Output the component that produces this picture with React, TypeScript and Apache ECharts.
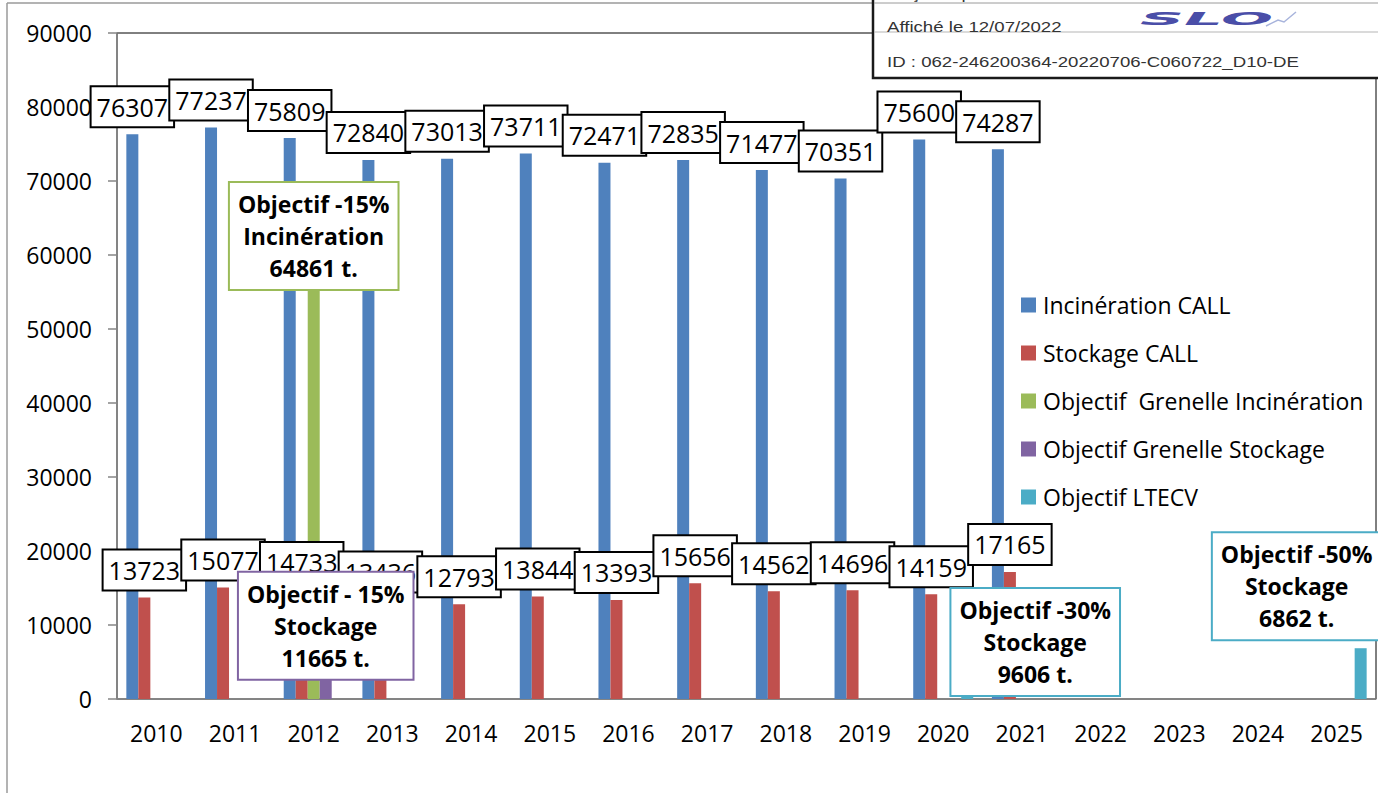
import React, { useEffect, useRef } from "react";
import * as echarts from "echarts";

const years = ["2010", "2011", "2012", "2013", "2014", "2015", "2016", "2017", "2018", "2019", "2020", "2021", "2022", "2023", "2024", "2025"];
const incinerationCall = [76307, 77237, 75809, 72840, 73013, 73711, 72471, 72835, 71477, 70351, 75600, 74287, null, null, null, null];
const stockageCall = [13723, 15077, 14733, 13436, 12793, 13844, 13393, 15656, 14562, 14696, 14159, 17165, null, null, null, null];
const grenelleIncineration = [null, null, 64861, null, null, null, null, null, null, null, null, null, null, null, null, null];
const grenelleStockage = [null, null, 11665, null, null, null, null, null, null, null, null, null, null, null, null, null];
const objectifLtecv = [null, null, null, null, null, null, null, null, null, null, 9606, null, null, null, null, 6862];
const ltecvPercent: Record<number, string> = { 10: "-30%", 15: "-50%" };
const seriesNames = ["Incinération CALL", "Stockage CALL", "Objectif  Grenelle Incinération", "Objectif Grenelle Stockage", "Objectif LTECV"];
const colors = ["#4F81BD", "#C0504D", "#9BBB59", "#8064A2", "#4BACC6"];

const FONT = "Open Sans";

export default function App() {
  const ref = useRef<HTMLDivElement>(null);
  useEffect(() => {
    if (!ref.current) return;
    const chart = echarts.init(ref.current, null, { renderer: "svg" });

    const valueLabel = {
      show: true,
      position: "top",
      distance: 8,
      fontFamily: FONT,
      fontSize: 25,
      lineHeight: 29,
      color: "#000",
      backgroundColor: "#fff",
      borderColor: "#000",
      borderWidth: 2,
      padding: [5, 5],
    };
    const noteLabel = (color: string) => ({
      show: true,
      position: "top",
      distance: 0,
      fontFamily: FONT,
      fontSize: 23,
      fontWeight: "bold",
      lineHeight: 32,
      color: "#000",
      backgroundColor: "#fff",
      borderColor: color,
      borderWidth: 2,
      padding: [5, 8],
      align: "center",
    });

    const ltecvOffsets: Record<number, number[]> = { 10: [68, 67], 15: [-64, -9] };
    const ltecvData = objectifLtecv.map((v, i) =>
      v == null
        ? null
        : {
            value: v,
            label: {
              ...noteLabel(colors[4]),
              offset: ltecvOffsets[i],
              formatter: `Objectif ${ltecvPercent[i]}\nStockage\n${v} t.`,
            },
          }
    );

    const barBase = { type: "bar", barWidth: 12, barGap: "0%" };

    chart.setOption({
      animation: false,
      color: colors,
      textStyle: { fontFamily: FONT },
      grid: {
        left: 117,
        top: 33,
        right: 2,
        bottom: 94,
        show: true,
        borderColor: "#000",
        borderWidth: 1,
        backgroundColor: "transparent",
      },
      legend: {
        orient: "vertical",
        left: 1021,
        top: 293,
        padding: 0,
        icon: "rect",
        itemWidth: 15,
        itemHeight: 15,
        itemGap: 24,
        selectedMode: false,
        textStyle: { fontFamily: FONT, fontSize: 23, color: "#000", lineHeight: 24, padding: [0, 0, 0, 2] },
        data: seriesNames,
      },
      xAxis: {
        type: "category",
        data: years,
        axisLine: { lineStyle: { color: "#868686", width: 1.5 } },
        axisTick: { length: 8, lineStyle: { color: "#868686", width: 1.5 } },
        axisLabel: { fontFamily: FONT, fontSize: 23, color: "#000", margin: 22 },
      },
      yAxis: {
        type: "value",
        min: 0,
        max: 90000,
        interval: 10000,
        splitLine: { show: false },
        axisLine: { show: true, lineStyle: { color: "#868686", width: 1.5 } },
        axisTick: { show: true, length: 9, lineStyle: { color: "#868686", width: 1.5 } },
        axisLabel: { fontFamily: FONT, fontSize: 23, color: "#000", margin: 25, formatter: (v: number) => String(v) },
      },
      series: [
        { ...barBase, name: seriesNames[0], data: incinerationCall, label: valueLabel },
        { ...barBase, name: seriesNames[1], data: stockageCall, label: valueLabel },
        {
          ...barBase,
          name: seriesNames[2],
          data: grenelleIncineration,
          label: { ...noteLabel(colors[2]), offset: [0, 70], formatter: (p: any) => `Objectif -15%\nIncinération\n${p.value} t.` },
        },
        {
          ...barBase,
          name: seriesNames[3],
          data: grenelleStockage,
          label: { ...noteLabel(colors[3]), offset: [0, 66], formatter: (p: any) => `Objectif - 15%\nStockage\n${p.value} t.` },
        },
        { ...barBase, name: seriesNames[4], data: ltecvData },
      ],
      graphic: [
        { type: "line", z: 90, shape: { x1: 7, y1: 3, x2: 7, y2: 800 }, style: { stroke: "#9a9a9a", lineWidth: 1.5 } },
        { type: "line", z: 90, shape: { x1: 7, y1: 3, x2: 1380, y2: 3 }, style: { stroke: "#9a9a9a", lineWidth: 1.5 } },
        { type: "rect", z: 100, shape: { x: 873, y: -6, width: 520, height: 84 }, style: { fill: "#fff", stroke: "#1a1a1a", lineWidth: 2.5 } },
        {
          type: "text", z: 101, x: 887, y: -13, scaleX: 1.33,
          style: { text: "Reçu en préfecture le 12/07/2022", fontSize: 14, fontFamily: "Liberation Sans", fill: "#333", verticalAlign: "top" },
        },
        { type: "line", z: 102, shape: { x1: 874, y1: 3, x2: 1378, y2: 3 }, style: { stroke: "#9a9a9a", lineWidth: 1 } },
        { type: "line", z: 102, shape: { x1: 874, y1: 32, x2: 1378, y2: 32 }, style: { stroke: "#b5b5b5", lineWidth: 1 } },
        {
          type: "text", z: 103, x: 887, y: 27, scaleX: 1.33,
          style: { text: "Affiché le 12/07/2022", fontSize: 14, fontFamily: "Liberation Sans", fill: "#333", verticalAlign: "middle" },
        },
        {
          type: "text", z: 103, x: 887, y: 62, scaleX: 1.33,
          style: { text: "ID : 062-246200364-20220706-C060722_D10-DE", fontSize: 14, fontFamily: "Liberation Sans", fill: "#333", verticalAlign: "middle" },
        },
        {
          type: "text", z: 103, x: 1140, y: 19, scaleX: 3.6,
          style: { text: "SLO", fontSize: 17, fontWeight: 900, fontStyle: "italic", fontFamily: "DejaVu Sans", fill: "#4a4ea8", verticalAlign: "middle" },
        },
        {
          type: "polyline", z: 103,
          shape: { points: [[1266, 26], [1278, 20], [1284, 22], [1296, 12]] },
          style: { stroke: "#a8b4dc", lineWidth: 1.5, fill: "none" },
        },
      ],
    });
    return () => chart.dispose();
  }, []);
  return <div ref={ref} style={{ position: "absolute", left: 0, top: 0, width: 1378, height: 793 }} />;
}
